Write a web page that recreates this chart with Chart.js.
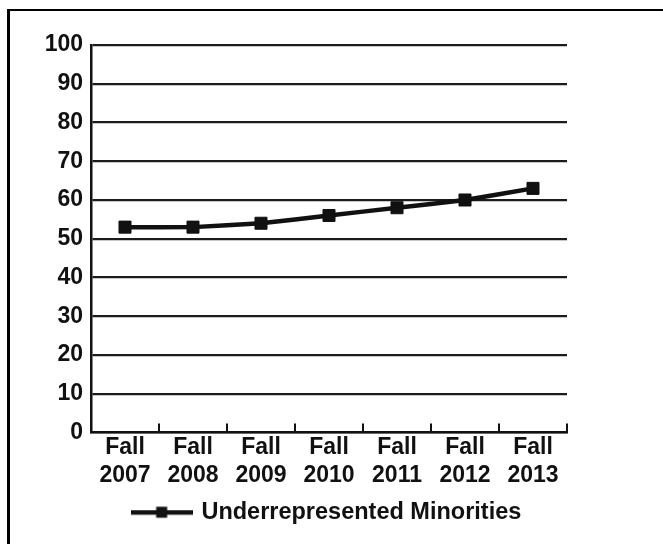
<!DOCTYPE html>
<html>
<head>
<meta charset="utf-8">
<script src="https://cdn.jsdelivr.net/npm/chart.js@4.4.1/dist/chart.umd.min.js"></script>
<style>
  html, body { margin: 0; padding: 0; background: #fff; overflow: hidden; }
  #wrap { position: relative; width: 663px; height: 544px; }
  #frame {
    position: absolute; left: 7px; top: 9px; width: 720px; height: 620px;
    border-left: 3px solid #000; border-top: 2px solid #000;
  }
  canvas { position: absolute; left: 0; top: 0; }
</style>
</head>
<body>
<div id="wrap">
  <div id="frame"></div>
  <canvas id="chart" width="663" height="544"></canvas>
</div>
<script>
// Fall enrollment share, underrepresented minorities (%)
const categories = [
  ["Fall", "2007"], ["Fall", "2008"], ["Fall", "2009"], ["Fall", "2010"],
  ["Fall", "2011"], ["Fall", "2012"], ["Fall", "2013"]
];
const seriesName = "Underrepresented Minorities";
const urmValues = [53, 53, 54, 56, 58, 60, 63];
const yTicks = [0, 10, 20, 30, 40, 50, 60, 70, 80, 90, 100];

const INK = "#111";
const FONT = "'Liberation Sans', Arial, Helvetica, sans-serif";

// Legend swatch: a short line with a square marker in the middle
function makeSwatch() {
  const c = document.createElement("canvas");
  c.width = 62; c.height = 14;
  const g = c.getContext("2d");
  g.fillStyle = INK;
  g.fillRect(0, 5, 62, 4.5);
  g.fillRect(25.5, 1.5, 11, 11);
  return c;
}

// Small upward tick marks on the category axis at each category boundary
const categoryTicks = {
  id: "categoryTicks",
  afterDraw(chart) {
    const xs = chart.scales.x;
    const n = xs.getLabels().length;
    const g = chart.ctx;
    g.save();
    g.strokeStyle = INK;
    g.lineWidth = 2;
    for (let i = 1; i <= n; i++) {
      const px = Math.round(xs.left + i * (xs.width / n));
      g.beginPath();
      g.moveTo(px, xs.top);
      g.lineTo(px, xs.top - 9);
      g.stroke();
    }
    g.restore();
  }
};

new Chart(document.getElementById("chart"), {
  type: "line",
  data: {
    labels: categories,
    datasets: [{
      label: seriesName,
      data: urmValues,
      borderColor: INK,
      backgroundColor: INK,
      borderWidth: 4.5,
      tension: 0.1,
      pointStyle: "rect",
      pointRadius: 8.5,
      pointBorderWidth: 1,
      pointBackgroundColor: INK,
      pointBorderColor: INK
    }]
  },
  options: {
    responsive: false,
    animation: false,
    events: [],
    layout: { padding: { left: 0, right: 8, top: 45, bottom: 10 } },
    plugins: {
      tooltip: { enabled: false },
      legend: {
        display: true,
        position: "bottom",
        labels: {
          usePointStyle: true,
          pointStyle: makeSwatch(),
          pointStyleWidth: 56,
          color: INK,
          padding: 10,
          font: { family: FONT, size: 23.5, weight: "bold" }
        }
      }
    },
    scales: {
      x: {
        type: "category",
        offset: true,
        grid: { display: false, drawTicks: false },
        border: { display: true, color: INK, width: 2.5 },
        ticks: {
          color: INK,
          padding: 2,
          maxRotation: 0,
          autoSkip: false,
          font: { family: FONT, size: 23, weight: "bold", lineHeight: 1.18 }
        },
        afterFit(s) { s.height = 58; }
      },
      y: {
        type: "linear",
        min: 0,
        max: 100,
        afterBuildTicks(s) { s.ticks = yTicks.map(v => ({ value: v })); },
        grid: { color: "#1c1c1c", lineWidth: 2.2, drawTicks: false },
        border: { display: true, color: INK, width: 2.5 },
        ticks: {
          color: INK,
          padding: 8,
          font: { family: FONT, size: 23, weight: "bold" }
        },
        afterFit(s) { s.width = 91; }
      },
      pad: {
        type: "linear",
        position: "right",
        display: true,
        grid: { display: false },
        border: { display: false },
        ticks: { display: false },
        afterFit(s) { s.width = 88; }
      }
    }
  },
  plugins: [categoryTicks]
});
</script>
</body>
</html>
